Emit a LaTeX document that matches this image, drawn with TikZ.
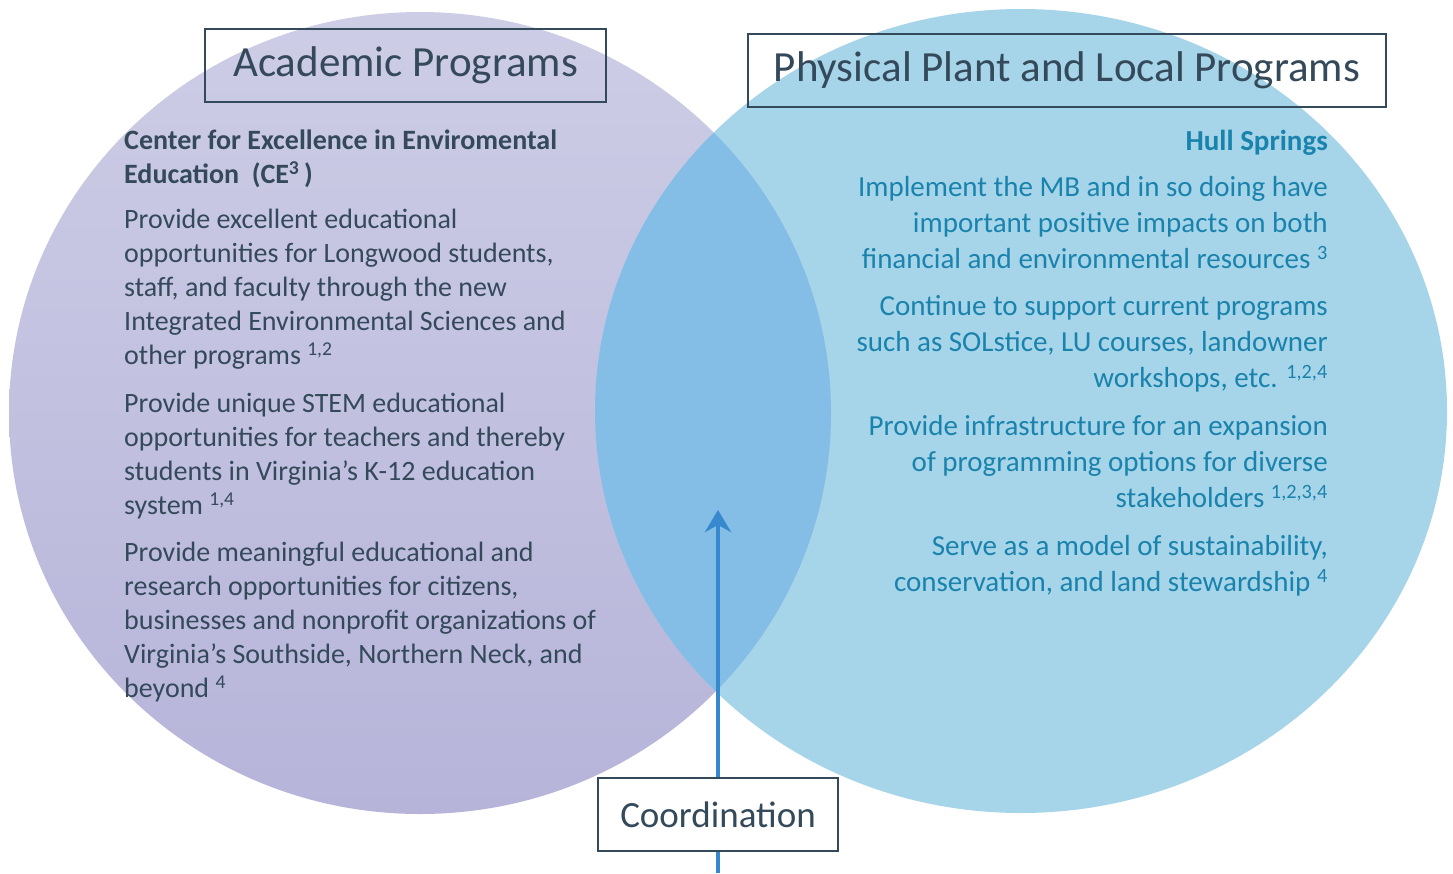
\documentclass[tikz,border=0pt]{standalone}
\usepackage{fontspec}
\setmainfont{Carlito}
\usetikzlibrary{positioning,arrows.meta}
\definecolor{lavendertop}{HTML}{CDCDE6}
\definecolor{lavenderbot}{HTML}{B6B4D9}
\definecolor{skyblue}{HTML}{A6D4E8}
\definecolor{overlapblue}{HTML}{84BDE5}
\definecolor{slate}{HTML}{34495A}
\definecolor{hullteal}{HTML}{1A83AD}
\definecolor{arrowblue}{HTML}{3689CE}

\begin{document}
\begin{tikzpicture}[x=1pt, y=-1pt,
  titlebox/.style={draw=slate, line width=1.5pt, inner sep=0pt, text=slate, font=\fontsize{43}{50}\selectfont},
  lefttext/.style={inner sep=0pt, align=left, text=slate, font=\fontsize{28}{34}\selectfont,
    execute at begin node=\strut, execute at end node=\strut},
  righttext/.style={inner sep=0pt, align=right, text=hullteal, font=\fontsize{29}{36}\selectfont,
    execute at begin node=\strut, execute at end node=\strut},
]
\useasboundingbox (0,0) rectangle (1453,873);

% the two circles and their overlap
\shade[top color=lavendertop, bottom color=lavenderbot] (420,413) ellipse [x radius=411pt, y radius=401pt];
\fill[skyblue] (1021,411) ellipse [x radius=426pt, y radius=402pt];
\begin{scope}
  \clip (420,413) ellipse [x radius=411pt, y radius=401pt];
  \fill[overlapblue] (1021,411) ellipse [x radius=426pt, y radius=402pt];
\end{scope}

\node[titlebox, minimum width=401pt, minimum height=73pt] (academic) at (405.5,65.5) {Academic Programs};
\node[titlebox, minimum width=638pt, minimum height=73pt] (plant)    at (1067,70.5)  {Physical Plant and Local Programs};

%\node (CE3) [] {Center for Excellence};
\node[lefttext, anchor=north west, font=\fontsize{28}{34}\selectfont\bfseries] (cee) at (124,130)
  {Center for Excellence in Enviromental\\Education\ \ (CE\textsuperscript{3}\,)};
\node[lefttext, below=15pt of cee.south west, anchor=north west] (excellent)
  {Provide excellent educational\\opportunities for Longwood students,\\staff, and faculty through the new\\Integrated Environmental Sciences and\\other programs \textsuperscript{1,2}};
\node[lefttext, below=18pt of excellent.south west, anchor=north west] (stem)
  {Provide unique STEM educational\\opportunities for teachers and thereby\\students in Virginia's K-12 education\\system \textsuperscript{1,4}};
\node[lefttext, below=17pt of stem.south west, anchor=north west] (meaningful)
  {Provide meaningful educational and\\research opportunities for citizens,\\businesses and nonprofit organizations of\\Virginia's Southside, Northern Neck, and\\beyond \textsuperscript{4}};

%\node (HS) [] {Hull Springs};
\node[righttext, anchor=north east, font=\fontsize{29}{36}\selectfont\bfseries] (hull) at (1328,125) {Hull Springs};
\node[righttext, below=15pt of hull.south east, anchor=north east] (mb)
  {Implement the MB and in so doing have\\important positive impacts on both\\financial and environmental resources \textsuperscript{3}};
\node[righttext, below=16pt of mb.south east, anchor=north east] (current)
  {Continue to support current programs\\such as SOLstice, LU courses, landowner\\workshops, etc. \textsuperscript{1,2,4}};
\node[righttext, below=16pt of current.south east, anchor=north east] (infra)
  {Provide infrastructure for an expansion\\of programming options for diverse\\stakeholders \textsuperscript{1,2,3,4}};
\node[righttext, below=17pt of infra.south east, anchor=north east] (model)
  {Serve as a model of sustainability,\\conservation, and land stewardship \textsuperscript{4}};

\node[titlebox, fill=white, minimum width=240pt, minimum height=73pt, font=\fontsize{37}{44}\selectfont] (coord) at (718,814.5) {Coordination};
\coordinate (base) at (718,873);
\coordinate (tip)  at (718,510);

\draw[arrowblue, line width=4pt] (base) -- (coord.south);
\draw[arrowblue, line width=4pt, -{Stealth[length=22pt, width=26pt, inset=7pt]}] (coord.north) -- (tip);

\end{tikzpicture}
\end{document}
